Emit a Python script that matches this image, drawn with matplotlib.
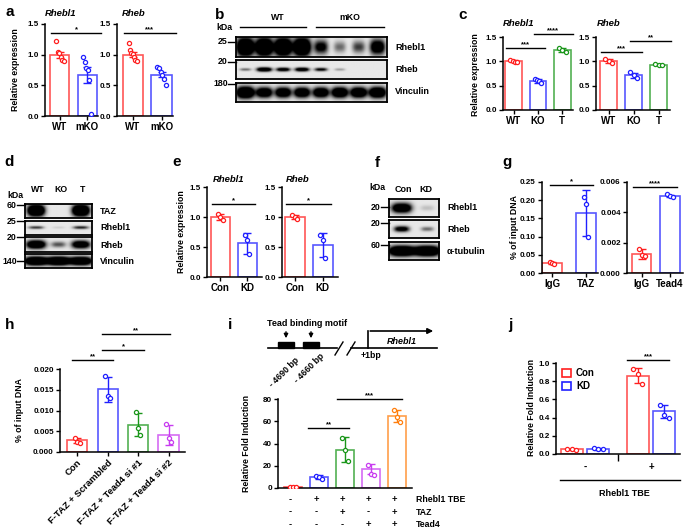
import numpy as np
import matplotlib
matplotlib.use("Agg")
import matplotlib.pyplot as plt
from matplotlib.colors import to_rgba
from matplotlib.patches import Patch, Rectangle

W, H = 685, 531
plt.rcParams["font.family"] = ["Liberation Sans", "DejaVu Sans"]
plt.rcParams["font.weight"] = "bold"
plt.rcParams["axes.linewidth"] = 1.1

RED, BLUE, GREEN, PURPLE, ORANGE = "#ff1f1f", "#2020ff", "#1a961a", "#c83cf0", "#ff7f0e"

# ---- a: qPCR WT vs mKO
a_groups = ["WT", "mKO"]
a_rhebl1_mean = [1.00, 0.67]
a_rhebl1_err = [0.05, 0.13]
a_rhebl1_pts = [[1.23, 1.05, 1.03, 0.97, 0.92, 0.90], [0.97, 0.88, 0.78, 0.75, 0.59, 0.04]]
a_rheb_mean = [1.00, 0.67]
a_rheb_err = [0.04, 0.04]
a_rheb_pts = [[1.19, 1.08, 1.03, 1.01, 0.97, 0.91, 0.89], [0.80, 0.79, 0.72, 0.67, 0.60, 0.51]]

# ---- b: western blot band intensities (8 lanes)
b_lanes = ["WT", "mKO"]
b_rhebl1 = [1.0, 1.0, 1.0, 1.0, 0.55, 0.25, 0.35, 0.7]
b_rheb = [0.25, 0.8, 0.65, 0.7, 0.5, 0.15, 0.0, 0.0]
b_vinculin = [1.0, 0.8, 0.8, 0.8, 0.8, 0.85, 0.85, 0.9]

# ---- c: WT / KO / T
c_groups = ["WT", "KO", "T"]
c_rhebl1_mean = [1.00, 0.60, 1.23]
c_rhebl1_err = [0.02, 0.04, 0.04]
c_rhebl1_pts = [[1.02, 1.00, 0.99, 0.98], [0.63, 0.62, 0.60, 0.55], [1.28, 1.23, 1.20]]
c_rheb_mean = [1.00, 0.71, 0.93]
c_rheb_err = [0.04, 0.06, 0.01]
c_rheb_pts = [[1.05, 1.00, 0.97], [0.78, 0.72, 0.66], [0.94, 0.93, 0.92]]

# ---- d: western blot (3 lanes)
d_lanes = ["WT", "KO", "T"]
d_taz = [1.0, 0.0, 1.0]
d_rhebl1 = [0.35, 0.05, 0.4]
d_rheb = [0.85, 0.3, 0.75]
d_vinculin = [1.0, 1.0, 0.95]

# ---- e: Con vs KD
e_groups = ["Con", "KD"]
e_rhebl1_mean = [1.00, 0.56]
e_rhebl1_err = [0.05, 0.17]
e_rhebl1_pts = [[1.05, 1.00, 0.95], [0.70, 0.62, 0.38]]
e_rheb_mean = [1.00, 0.54]
e_rheb_err = [0.04, 0.20]
e_rheb_pts = [[1.04, 1.00, 0.97], [0.70, 0.62, 0.32]]

# ---- f: western blot (2 lanes)
f_lanes = ["Con", "KD"]
f_rhebl1 = [0.8, 0.08]
f_rheb = [0.6, 0.25]
f_tubulin = [1.0, 1.0]

# ---- g: ChIP
g_taz_groups = ["IgG", "TAZ"]
g_taz_mean = [0.028, 0.165]
g_taz_err = [0.002, 0.062]
g_taz_pts = [[0.030, 0.027, 0.026], [0.210, 0.190, 0.098]]
g_tead_groups = ["IgG", "Tead4"]
g_tead_mean = [0.00125, 0.0051]
g_tead_err = [0.00033, 0.00006]
g_tead_pts = [[0.0016, 0.0012, 0.0011], [0.0052, 0.0051, 0.0050]]

# ---- h: ChIP with Tead4 knockdown
h_groups = ["Con", "F-TAZ + Scrambled", "F-TAZ + Tead4 si #1", "F-TAZ + Tead4 si #2"]
h_mean = [0.0028, 0.0151, 0.0066, 0.0042]
h_err = [0.0006, 0.0030, 0.0028, 0.0024]
h_pts = [[0.0034, 0.0025, 0.0022], [0.0184, 0.0136, 0.0131],
         [0.0096, 0.0058, 0.0042], [0.0068, 0.0033, 0.0023]]

# ---- i: luciferase
i_mean = [1.0, 9.5, 34.5, 17.0, 65.0]
i_err = [0.4, 1.8, 11.0, 4.5, 5.5]
i_pts = [[1.2, 1.0, 0.8], [11.0, 9.5, 8.0], [45.0, 34.0, 24.0], [21.0, 13.0, 12.0], [70.0, 64.0, 59.0]]
i_rows = ["Rhebl1 TBE", "TAZ", "Tead4"]
i_signs = [["-", "+", "+", "+", "+"], ["-", "-", "+", "-", "+"], ["-", "-", "-", "+", "+"]]

# ---- j: luciferase Con/KD
j_groups = ["-", "+"]
j_con_mean = [0.05, 0.86]
j_con_err = [0.01, 0.08]
j_con_pts = [[0.06, 0.05, 0.04], [0.93, 0.88, 0.77]]
j_kd_mean = [0.055, 0.47]
j_kd_err = [0.01, 0.07]
j_kd_pts = [[0.065, 0.06, 0.05], [0.54, 0.43, 0.40]]

fig = plt.figure(figsize=(W / 100, H / 100), dpi=100)


def px(x0, y0, x1, y1):
    return [x0 / W, 1 - y1 / H, (x1 - x0) / W, (y1 - y0) / H]


def style(ax, xlim, ylim, yticks, ylabels, xlabels, xfs=7, yfs=5.8, xticks=None):
    ax.set_xlim(*xlim)
    ax.set_ylim(*ylim)
    ax.set_yticks(yticks)
    ax.set_yticklabels(ylabels, fontsize=yfs)
    ax.set_xticks(range(len(xlabels)) if xticks is None else xticks)
    ax.set_xticklabels(xlabels, fontsize=xfs)
    for s in ("top", "right"):
        ax.spines[s].set_visible(False)
    ax.tick_params(length=3, width=1, pad=1.5)


def bars(ax, xs, means, errs, pts, colors, width=0.68, spread=0.12):
    for x, m, e, p, c in zip(xs, means, errs, pts, colors):
        ax.bar(x, m, width, facecolor="white", edgecolor=to_rgba(c, 0.75), linewidth=1.2, zorder=2)
        ax.errorbar(x, m, yerr=e, fmt="none", ecolor=c, elinewidth=1, capsize=3, capthick=1, zorder=3)
        off = np.linspace(-spread, spread, len(p))
        ax.scatter(x + off, p, s=9, facecolors="white", edgecolors=c, linewidths=0.9, zorder=4)


def sig(ax, x0, x1, y, txt):
    ax.plot([x0, x1], [y, y], color="k", lw=1, clip_on=False)
    ax.text((x0 + x1) / 2, y, txt, ha="center", va="bottom", fontsize=5.5, clip_on=False)


def blot(x0, y0, x1, y1, lanes, thick=0.3, spread=0.42):
    ax = fig.add_axes(px(x0, y0, x1, y1))
    n = len(lanes)
    gx = (np.arange(n * 30) + 0.5) / 30
    gy = np.linspace(-0.5, 0.5, 40)
    img = np.full((40, n * 30), 0.09)
    for i, v in enumerate(lanes):
        if v <= 0:
            continue
        wx = spread * (0.6 + 0.4 * v)
        ty = thick * (0.5 + 0.5 * v)
        bx = np.exp(-np.abs((gx - i - 0.5) / wx) ** 3)
        by = np.exp(-(gy / ty) ** 2)
        img += 2.0 * v * np.outer(by, bx)
    ax.imshow(np.clip(img, 0, 1), cmap="gray_r", vmin=0, vmax=1, aspect="auto",
              extent=(0, n, 0, 1), interpolation="bilinear")
    ax.set_xticks([])
    ax.set_yticks([])
    for s in ax.spines.values():
        s.set_linewidth(1.3)
    return ax


ov = fig.add_axes([0, 0, 1, 1])
ov.set_xlim(0, W)
ov.set_ylim(H, 0)
ov.axis("off")
ov.set_zorder(10)


def kda(x_box, y, label):
    ov.text(x_box - 8, y, label, ha="right", va="center", fontsize=6.3)
    ov.plot([x_box - 8, x_box], [y, y], color="k", lw=1)


def ylab(x, y, txt, fs=6.3):
    ov.text(x, y, txt, rotation=90, ha="center", va="center", fontsize=fs)


# panel letters
for lt, (lx, ly) in zip("abcdefghij", [(6, 12), (215, 15), (458, 15), (4, 162), (172, 162),
                                      (375, 163), (502, 162), (5, 325), (228, 325), (508, 325)]):
    ov.text(lx, ly, lt, fontsize=11, ha="left", va="center")

# ---------- a
yt15 = [0, 0.5, 1.0, 1.5]
yl15 = ["0.0", "0.5", "1.0", "1.5"]
for rect, mean, err, pts, title, tx, star in [
        ((45, 24, 98, 116), a_rhebl1_mean, a_rhebl1_err, a_rhebl1_pts, "Rhebl1", 0.0, "*"),
        ((117, 24, 173, 116), a_rheb_mean, a_rheb_err, a_rheb_pts, "Rheb", 0.09, "***")]:
    ax = fig.add_axes(px(*rect))
    bars(ax, [0, 1], mean, err, pts, [RED, BLUE], width=0.7, spread=0.14)
    style(ax, (-0.55, 1.4), (0, 1.5), yt15, yl15, a_groups)
    ax.text(tx, 1.11, title, transform=ax.transAxes, fontsize=6.8, style="italic",
            ha="left", va="center")
    sig(ax, -0.32, 1.5, 1.35, star)
ylab(16, 70, "Relative expression")

# ---------- b
bl = 236
blot(bl, 37, 387, 57, b_rhebl1, thick=0.45, spread=0.45)
blot(bl, 60, 387, 79, b_rheb, thick=0.12, spread=0.42)
blot(bl, 83, 387, 102, b_vinculin, thick=0.3, spread=0.46)
ov.text(278, 17, b_lanes[0], ha="center", va="center", fontsize=6.3)
ov.text(350, 17, b_lanes[1], ha="center", va="center", fontsize=6.3)
ov.plot([240, 306], [27, 27], color="k", lw=1)
ov.plot([316, 384], [27, 27], color="k", lw=1)
ov.text(233, 28, "kDa", ha="right", va="center", fontsize=6.3)
kda(bl, 42, "25")
kda(bl, 62, "20")
kda(bl, 84, "180")
for y, t in [(48, "Rhebl1"), (70, "Rheb"), (92, "Vinculin")]:
    ov.text(395, y, t, ha="left", va="center", fontsize=6.5)

# ---------- c
for rect, mean, err, pts, title, xl, s1, s2 in [
        ((503, 37, 573, 110), c_rhebl1_mean, c_rhebl1_err, c_rhebl1_pts, "Rhebl1", (-0.45, 2.45),
         (-0.33, 1.31, 1.27, "***"), (0.82, 2.45, 1.56, "****")),
        ((596, 37, 670, 110), c_rheb_mean, c_rheb_err, c_rheb_pts, "Rheb", (-0.5, 2.45),
         (-0.29, 1.35, 1.19, "***"), (0.86, 2.49, 1.42, "**"))]:
    ax = fig.add_axes(px(*rect))
    bars(ax, [0, 1, 2], mean, err, pts, [RED, BLUE, GREEN], width=0.7, spread=0.14)
    style(ax, xl, (0, 1.5), yt15, yl15, c_groups)
    ax.text(-0.45, 1.78, title, fontsize=6.8, style="italic", ha="left", va="center", clip_on=False)
    sig(ax, *s1)
    sig(ax, *s2)
ylab(476, 75, "Relative expression")

# ---------- d
dl, dr = 25, 92
blot(dl, 204, dr, 218, d_taz, thick=0.38, spread=0.38)
blot(dl, 221, dr, 235, d_rhebl1, thick=0.15, spread=0.45)
blot(dl, 237, dr, 252, d_rheb, thick=0.3, spread=0.45)
blot(dl, 254, dr, 268, d_vinculin, thick=0.3, spread=0.5)
for k, t in enumerate(d_lanes):
    ov.text(dl + (dr - dl) / 3 * (k + 0.5) + 2, 190, t, ha="center", va="center", fontsize=6.3)
ov.text(15, 195, "kDa", ha="center", va="center", fontsize=6.3)
kda(dl, 205, "60")
kda(dl, 221, "25")
kda(dl, 237, "20")
kda(dl, 261, "140")
for y, t in [(211, "TAZ"), (228, "Rhebl1"), (245, "Rheb"), (261, "Vinculin")]:
    ov.text(100, y, t, ha="left", va="center", fontsize=6.5)

# ---------- e
for rect, mean, err, pts, title, xl in [
        ((207, 187, 262, 277), e_rhebl1_mean, e_rhebl1_err, e_rhebl1_pts, "Rhebl1", (-0.5, 1.55)),
        ((282, 187, 338, 277), e_rheb_mean, e_rheb_err, e_rheb_pts, "Rheb", (-0.45, 1.55))]:
    ax = fig.add_axes(px(*rect))
    bars(ax, [0, 1], mean, err, pts, [RED, BLUE], width=0.72, spread=0.08)
    style(ax, xl, (0, 1.5), yt15, yl15, e_groups)
    ax.text(-0.3, 1.62, title, fontsize=6.8, style="italic", ha="left", va="center", clip_on=False)
    sig(ax, -0.3, 1.3, 1.22, "*")
ylab(182, 232, "Relative expression")

# ---------- f
fl, fr = 389, 439
blot(fl, 199, fr, 217, f_rhebl1, thick=0.3, spread=0.42)
blot(fl, 220, fr, 238, f_rheb, thick=0.2, spread=0.35)
blot(fl, 242, fr, 260, f_tubulin, thick=0.28, spread=0.5)
ov.text(403, 190, f_lanes[0], ha="center", va="center", fontsize=6.5)
ov.text(426, 190, f_lanes[1], ha="center", va="center", fontsize=6.5)
ov.text(377, 187, "kDa", ha="center", va="center", fontsize=6.3)
kda(fl, 207, "20")
kda(fl, 223, "20")
kda(fl, 245, "60")
for y, t in [(208, "Rhebl1"), (230, "Rheb"), (251, "\u03b1-tubulin")]:
    ov.text(447, y, t, ha="left", va="center", fontsize=6.5)

# ---------- g
ax = fig.add_axes(px(542, 182, 598, 273))
bars(ax, [0, 1], g_taz_mean, g_taz_err, g_taz_pts, [RED, BLUE], width=0.6, spread=0.06)
style(ax, (-0.3, 1.35), (0, 0.25), [0, 0.05, 0.10, 0.15, 0.20, 0.25],
      ["0.00", "0.05", "0.10", "0.15", "0.20", "0.25"], g_taz_groups)
sig(ax, -0.06, 1.2, 0.242, "*")
ax = fig.add_axes(px(627, 182, 683, 273))
bars(ax, [0, 1], g_tead_mean, g_tead_err, g_tead_pts, [RED, BLUE], width=0.68, spread=0.1)
style(ax, (-0.53, 1.46), (0, 0.006), [0, 0.002, 0.004, 0.006],
      ["0.000", "0.002", "0.004", "0.006"], g_tead_groups)
sig(ax, -0.32, 1.25, 0.00567, "****")
ylab(515, 227, "% of input DNA")

# ---------- h
ax = fig.add_axes(px(60, 369, 185, 452))
bars(ax, range(4), h_mean, h_err, h_pts, [RED, BLUE, GREEN, PURPLE], width=0.66, spread=0.08)
style(ax, (-0.56, 3.54), (0, 0.020), [0, 0.005, 0.010, 0.015, 0.020],
      ["0.000", "0.005", "0.010", "0.015", "0.020"], h_groups, xfs=6.8)
for lbl in ax.get_xticklabels():
    lbl.set_rotation(45)
    lbl.set_ha("right")
    lbl.set_rotation_mode("anchor")
sig(ax, -0.16, 1.18, 0.0222, "**")
sig(ax, 0.82, 2.2, 0.0246, "*")
sig(ax, 0.82, 3.05, 0.0284, "**")
ylab(20, 410, "% of input DNA")

# ---------- i schematic
ov.text(267, 324, "Tead binding motif", ha="left", va="center", fontsize=6.5)
ov.plot([268, 337], [348, 348], color="k", lw=1.2)
ov.plot([351, 437], [348, 348], color="k", lw=1.2)
for bx in (278, 303):
    ov.add_patch(Rectangle((bx, 342), 16, 6, color="k"))
    ov.annotate("", xy=(bx + 8, 341), xytext=(bx + 8, 329),
                arrowprops=dict(arrowstyle="-|>", color="k", lw=1, mutation_scale=6))
for sx in (335, 347):
    ov.plot([sx, sx + 8], [355, 342], color="k", lw=1)
ov.plot([368, 368], [348, 331], color="k", lw=1.2)
ov.annotate("", xy=(436, 331), xytext=(367.4, 331),
            arrowprops=dict(arrowstyle="-|>", color="k", lw=1.2, mutation_scale=8))
ov.text(402, 341, "Rhebl1", ha="center", va="center", fontsize=6.5, style="italic")
ov.text(371, 355, "+1bp", ha="center", va="center", fontsize=6.3)
ov.text(295, 356, "- 4690 bp", rotation=45, ha="right", va="top", rotation_mode="anchor", fontsize=6.3)
ov.text(320, 352, "- 4660 bp", rotation=45, ha="right", va="top", rotation_mode="anchor", fontsize=6.3)

# ---------- i bars
ax = fig.add_axes(px(278, 399, 412, 488))
bars(ax, range(5), i_mean, i_err, i_pts, [RED, BLUE, GREEN, PURPLE, ORANGE], width=0.7, spread=0.1)
style(ax, (-0.58, 4.58), (0, 80), [0, 20, 40, 60, 80], ["0", "20", "40", "60", "80"], [])
ax.set_xticks([])
sig(ax, 0.58, 2.15, 54, "**")
sig(ax, 1.69, 4.19, 80, "***")
for r, (row, signs) in enumerate(zip(i_rows, i_signs)):
    yy = -0.125 - 0.145 * r
    for k, s in enumerate(signs):
        ax.text(k - 0.1, yy, s, transform=ax.get_xaxis_transform(), ha="center", va="center",
                fontsize=6.8, clip_on=False)
    ax.text(4.73, yy, row, transform=ax.get_xaxis_transform(), ha="left", va="center",
            fontsize=6.3, clip_on=False)
ylab(247, 443, "Relative Fold Induction")

# ---------- j
ax = fig.add_axes(px(556, 363, 680, 454))
gx = np.arange(len(j_groups))
bars(ax, gx - 0.2, j_con_mean, j_con_err, j_con_pts, [RED, RED], width=0.33, spread=0.07)
bars(ax, gx + 0.2, j_kd_mean, j_kd_err, j_kd_pts, [BLUE, BLUE], width=0.33, spread=0.07)
style(ax, (-0.44, 1.44), (0, 1.0), [0, 0.2, 0.4, 0.6, 0.8, 1.0],
      ["0.0", "0.2", "0.4", "0.6", "0.8", "1.0"], [""], xticks=[0.5])
ax.tick_params(axis="x", length=5)
for k, g in enumerate(j_groups):
    ax.text(k, -0.14, g, transform=ax.get_xaxis_transform(), ha="center", va="center",
            fontsize=7, clip_on=False)
ax.plot([-0.38, 1.44], [-0.286, -0.286], transform=ax.get_xaxis_transform(), color="k",
        lw=1, clip_on=False)
ax.text(0.6, -0.43, "Rhebl1 TBE", transform=ax.get_xaxis_transform(), ha="center", va="center",
        fontsize=6.5, clip_on=False)
sig(ax, 0.64, 1.27, 1.03, "***")
ax.legend(handles=[Patch(facecolor="white", edgecolor=RED, lw=1.2, label="Con"),
                   Patch(facecolor="white", edgecolor=BLUE, lw=1.2, label="KD")],
          loc="upper left", bbox_to_anchor=(-0.02, 1.04), frameon=False, fontsize=7,
          handlelength=0.9, handleheight=0.9, handletextpad=0.5, labelspacing=0.3)
ylab(532, 408, "Relative Fold Induction")

fig.savefig("out.png", dpi=100)
